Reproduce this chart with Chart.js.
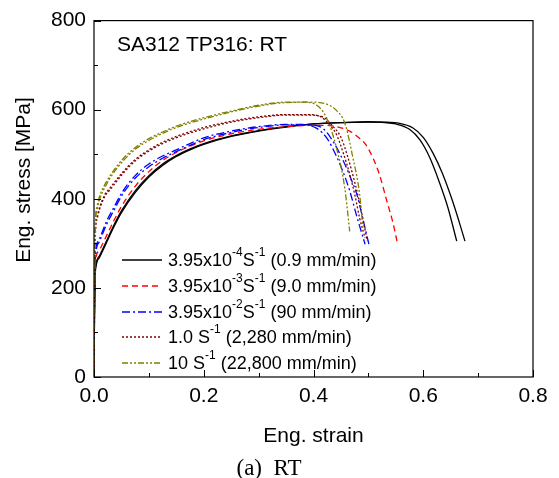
<!DOCTYPE html>
<html>
<head>
<meta charset="utf-8">
<script src="https://cdn.jsdelivr.net/npm/chart.js@4.4.1/dist/chart.umd.min.js"></script>
<style>
  html, body { margin: 0; padding: 0; background: #fff; }
  #wrap { width: 559px; height: 478px; }
</style>
</head>
<body>
<div id="wrap"><canvas id="c" width="559" height="478"></canvas></div>
<script>
// values: strain / stress [MPa]
const black1X = [0, 0.001, 0.002, 0.004, 0.01, 0.02, 0.035, 0.05, 0.075, 0.1, 0.125, 0.15, 0.175, 0.2, 0.25, 0.3, 0.35, 0.4, 0.45, 0.5, 0.53, 0.55, 0.575, 0.594, 0.612, 0.63, 0.645, 0.661];
const black1Y = [0, 150, 225, 255, 272, 298, 338, 373, 418, 452, 478, 497, 512, 524, 541, 553, 562, 568, 571, 572, 571, 568, 556, 532, 492, 435, 380, 305];
const black2X = [0, 0.001, 0.002, 0.004, 0.01, 0.02, 0.035, 0.05, 0.075, 0.1, 0.125, 0.15, 0.175, 0.2, 0.25, 0.3, 0.35, 0.4, 0.45, 0.5, 0.535, 0.555, 0.58, 0.6, 0.618, 0.635, 0.652, 0.665, 0.676];
const black2Y = [0, 145, 220, 250, 268, 294, 334, 369, 414, 449, 475, 495, 510, 522, 540, 552, 561, 568, 571, 573, 572, 570, 560, 538, 502, 457, 400, 350, 305];

const redX = [0, 0.001, 0.002, 0.004, 0.01, 0.02, 0.035, 0.05, 0.075, 0.1, 0.125, 0.15, 0.175, 0.2, 0.25, 0.3, 0.35, 0.4, 0.42, 0.445, 0.466, 0.48, 0.495, 0.509, 0.52, 0.533, 0.545, 0.553];
const redY = [0, 160, 240, 270, 285, 310, 348, 383, 428, 461, 486, 504, 518, 530, 546, 556, 562, 565, 565, 561, 552, 540, 522, 490, 455, 398, 345, 300];

const blue1X = [0, 0.001, 0.002, 0.004, 0.01, 0.023, 0.035, 0.053, 0.075, 0.1, 0.125, 0.15, 0.175, 0.2, 0.25, 0.3, 0.35, 0.38, 0.406, 0.425, 0.442, 0.454, 0.466, 0.479, 0.494];
const blue1Y = [0, 170, 255, 290, 310, 350, 378, 418, 452, 478, 496, 510, 524, 537, 552, 562, 567, 567, 558, 535, 495, 460, 418, 360, 298];
const blue2X = [0, 0.001, 0.002, 0.004, 0.01, 0.023, 0.035, 0.053, 0.075, 0.1, 0.125, 0.15, 0.175, 0.2, 0.25, 0.3, 0.35, 0.39, 0.415, 0.435, 0.454, 0.47, 0.479, 0.49, 0.501];
const blue2Y = [0, 165, 250, 284, 304, 343, 371, 412, 446, 472, 491, 506, 520, 533, 549, 560, 566, 566, 560, 530, 486, 440, 410, 355, 298];

const brown1X = [0, 0.001, 0.003, 0.005, 0.01, 0.02, 0.029, 0.053, 0.075, 0.1, 0.125, 0.15, 0.2, 0.25, 0.3, 0.35, 0.39, 0.412, 0.43, 0.442, 0.455, 0.466, 0.476, 0.484, 0.494];
const brown1Y = [0, 200, 340, 357, 380, 410, 424, 461, 488, 510, 527, 540, 560, 574, 584, 589, 589, 585, 565, 544, 500, 455, 405, 357, 312];
const brown2X = [0, 0.001, 0.003, 0.005, 0.01, 0.02, 0.029, 0.053, 0.075, 0.1, 0.125, 0.15, 0.2, 0.25, 0.3, 0.35, 0.39, 0.418, 0.436, 0.45, 0.462, 0.472, 0.482, 0.49, 0.498];
const brown2Y = [0, 195, 335, 352, 376, 406, 420, 457, 485, 507, 524, 537, 557, 572, 582, 588, 588, 583, 562, 538, 496, 452, 402, 355, 305];

const olive1X = [0, 0.001, 0.003, 0.005, 0.01, 0.023, 0.035, 0.053, 0.075, 0.1, 0.125, 0.15, 0.2, 0.25, 0.3, 0.35, 0.38, 0.406, 0.424, 0.442, 0.457, 0.466];
const olive1Y = [0, 220, 360, 380, 405, 439, 462, 490, 515, 535, 550, 563, 582, 597, 610, 617, 617, 610, 581, 514, 424, 327];
const olive2X = [0, 0.001, 0.003, 0.005, 0.01, 0.023, 0.035, 0.053, 0.075, 0.1, 0.125, 0.15, 0.2, 0.25, 0.3, 0.35, 0.4, 0.425, 0.442, 0.457, 0.472, 0.484, 0.49];
const olive2Y = [0, 215, 352, 373, 398, 433, 457, 485, 511, 531, 547, 560, 579, 595, 608, 616, 617, 612, 598, 570, 491, 411, 335];

// legend text, pieces with sup:true are superscripts
const legendLabels = [
  [{t: '3.95x10'}, {t: '-4', sup: true}, {t: 'S'}, {t: '-1', sup: true}, {t: ' (0.9 mm/min)'}],
  [{t: '3.95x10'}, {t: '-3', sup: true}, {t: 'S'}, {t: '-1', sup: true}, {t: ' (9.0 mm/min)'}],
  [{t: '3.95x10'}, {t: '-2', sup: true}, {t: 'S'}, {t: '-1', sup: true}, {t: ' (90 mm/min)'}],
  [{t: '1.0 S'}, {t: '-1', sup: true}, {t: ' (2,280 mm/min)'}],
  [{t: '10 S'}, {t: '-1', sup: true}, {t: ' (22,800 mm/min)'}]
];

const FONT = "Arial, 'Liberation Sans', sans-serif";

function pts(xs, ys) {
  return xs.map((x, i) => ({ x: x, y: ys[i] }));
}

function line(xs, ys, color, dash, legendIdx) {
  return {
    data: pts(xs, ys),
    borderColor: color,
    borderDash: dash,
    borderWidth: 1.3,
    pointRadius: 0,
    showLine: true,
    fill: false,
    cubicInterpolationMode: 'monotone',
    legendIdx: legendIdx
  };
}

const dsets = [
  line(olive1X, olive1Y, '#808000', [6, 2, 2, 2, 2, 2], 4),
  line(olive2X, olive2Y, '#808000', [6, 2, 2, 2, 2, 2], -1),
  line(brown1X, brown1Y, '#800000', [2, 2], 3),
  line(brown2X, brown2Y, '#800000', [2, 2], -1),
  line(blue1X, blue1Y, '#0000ff', [8, 3, 2, 3], 2),
  line(blue2X, blue2Y, '#0000ff', [8, 3, 2, 3], -1),
  line(redX, redY, '#ff0000', [6, 4], 1),
  line(black1X, black1Y, '#000000', [], 0),
  line(black2X, black2Y, '#000000', [], -1)
];

// frame, inward ticks, legend, texts
const decor = {
  id: 'decor',
  afterDraw(chart) {
    const ctx = chart.ctx;
    const a = chart.chartArea;
    const xs = chart.scales.x, ys = chart.scales.y;
    ctx.save();
    ctx.strokeStyle = '#000';
    ctx.lineWidth = 1.2;
    ctx.strokeRect(a.left, a.top, a.right - a.left, a.bottom - a.top);

    ctx.lineWidth = 1;
    ctx.beginPath();
    xs.ticks.forEach(t => {
      const px = Math.round(xs.getPixelForValue(t.value)) + 0.5;
      const major = Math.abs(t.value * 5 - Math.round(t.value * 5)) < 1e-6;
      ctx.moveTo(px, a.bottom);
      ctx.lineTo(px, a.bottom - (major ? 7 : 4));
    });
    ys.ticks.forEach(t => {
      const py = Math.round(ys.getPixelForValue(t.value)) + 0.5;
      const major = t.value % 200 === 0;
      ctx.moveTo(a.left, py);
      ctx.lineTo(a.left + (major ? 7 : 4), py);
    });
    ctx.stroke();

    // title inside the plot
    ctx.fillStyle = '#000';
    ctx.font = '21px ' + FONT;
    ctx.textBaseline = 'alphabetic';
    ctx.textAlign = 'left';
    ctx.fillText('SA312 TP316: RT', 117, 51);

    // y axis title
    ctx.save();
    ctx.translate(30, 180);
    ctx.rotate(-Math.PI / 2);
    ctx.textAlign = 'center';
    ctx.font = '21px ' + FONT;
    ctx.fillText('Eng. stress [MPa]', 0, 0);
    ctx.restore();

    // legend
    const rowY = [260, 286, 312, 337, 363];
    chart.data.datasets.forEach(ds => {
      if (ds.legendIdx < 0) return;
      const y = rowY[ds.legendIdx];
      ctx.strokeStyle = ds.borderColor;
      ctx.lineWidth = ds.borderWidth;
      ctx.setLineDash(ds.borderDash);
      ctx.beginPath();
      ctx.moveTo(122, y);
      ctx.lineTo(162, y);
      ctx.stroke();
      ctx.setLineDash([]);
      let x = 168;
      ctx.fillStyle = '#000';
      ctx.textAlign = 'left';
      ctx.textBaseline = 'middle';
      legendLabels[ds.legendIdx].forEach(p => {
        if (p.sup) {
          ctx.font = '12px ' + FONT;
          ctx.fillText(p.t, x, y - 7);
        } else {
          ctx.font = '18px ' + FONT;
          ctx.fillText(p.t, x, y + 1);
        }
        x += ctx.measureText(p.t).width;
      });
    });

    // caption under the chart
    ctx.font = "23px 'Times New Roman', 'Liberation Serif', serif";
    ctx.textAlign = 'center';
    ctx.textBaseline = 'middle';
    ctx.fillText('(a)  RT', 269, 469);
    ctx.restore();
  }
};

new Chart(document.getElementById('c'), {
  type: 'scatter',
  data: { datasets: dsets },
  options: {
    responsive: false,
    animation: false,
    events: [],
    layout: { padding: { top: 19, right: 26, left: 0, bottom: 0 } },
    plugins: { legend: { display: false }, tooltip: { enabled: false } },
    scales: {
      x: {
        type: 'linear', min: 0, max: 0.8,
        afterFit: s => { s.height = 101; },
        grid: { display: false, drawTicks: false },
        border: { display: false },
        ticks: {
          stepSize: 0.1, padding: 7, color: '#000', maxRotation: 0, autoSkip: false,
          font: { family: FONT, size: 21 },
          callback: v => (Math.abs(v * 5 - Math.round(v * 5)) < 1e-6 ? v.toFixed(1) : '')
        },
        title: { display: true, text: 'Eng. strain', color: '#000', font: { family: FONT, size: 21 }, padding: { top: 0, bottom: 29 } }
      },
      y: {
        type: 'linear', min: 0, max: 800,
        afterFit: s => { s.width = 94; },
        grid: { display: false, drawTicks: false },
        border: { display: false },
        ticks: {
          stepSize: 100, padding: 8, color: '#000', autoSkip: false,
          font: { family: FONT, size: 21 },
          callback: v => (v % 200 === 0 ? String(v) : '')
        }
      }
    }
  },
  plugins: [decor]
});
</script>
</body>
</html>
